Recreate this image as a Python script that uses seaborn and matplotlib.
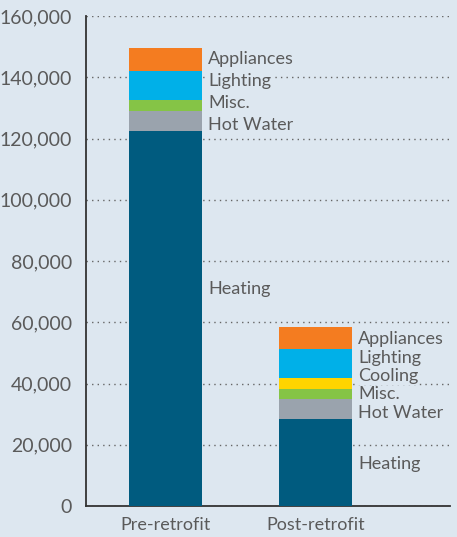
import numpy as np
import matplotlib.pyplot as plt
import seaborn as sns

# Categories and stacked components (kWh)
categories = ['Pre-retrofit', 'Post-retrofit']
components = ['Heating', 'Hot Water', 'Misc.', 'Cooling', 'Lighting', 'Appliances']
heating = [122400, 28500]
hot_water = [6600, 6500]
misc = [3600, 3300]
cooling = [0, 3600]
lighting = [9400, 9500]
appliances = [7500, 7000]
y_ticks = [0, 20000, 40000, 60000, 80000, 100000, 120000, 140000, 160000]

colors = ['#005b7f', '#9aa3ad', '#85c446', '#ffd400', '#00b0e8', '#f47c20']
bg = '#dde7f0'
text_col = '#5a5a5a'

sns.set_theme(style='white')
plt.rcParams['font.family'] = ['Lato', 'DejaVu Sans']

fig = plt.figure(figsize=(4.57, 5.37), dpi=100, facecolor=bg)
ax = fig.add_axes([0.188, 0.0577, 0.797, 0.9123])
ax.set_facecolor(bg)

series = [heating, hot_water, misc, cooling, lighting, appliances]
bottom = np.zeros(len(categories))
mids = []
# where the label of the bottom (tall) segment sits within it
base_frac = [0.58, 0.48]
for n, (vals, col) in enumerate(zip(series, colors)):
    vals = np.array(vals, dtype=float)
    sns.barplot(x=categories, y=vals, bottom=bottom, color=col, width=0.487,
                saturation=1, ax=ax, zorder=3, edgecolor='none', linewidth=0)
    if n == 0:
        mids.append(bottom + vals * np.array(base_frac))
    else:
        mids.append(bottom + vals / 2 - 1300)
    bottom = bottom + vals
mids = np.array(mids)

# Segment labels to the right of each bar, nudged apart where crowded
min_gap = [7200, 6000]
for j in range(len(categories)):
    idx = [i for i in range(len(components)) if series[i][j] > 0]
    ys = [mids[i, j] for i in idx]
    for k in range(1, len(ys)):
        if ys[k] - ys[k - 1] < min_gap[j]:
            ys[k] = ys[k - 1] + min_gap[j]
    for i, yv in zip(idx, ys):
        ax.text(j + 0.285, yv, components[i], ha='left', va='center',
                fontsize=13, color=text_col, zorder=4,
                bbox=dict(facecolor=bg, edgecolor='none', pad=0.5))

ax.set_xlim(-0.53, 1.897)
ax.set_ylim(0, 160000)
ax.set_yticks(y_ticks)
ax.set_yticklabels([f'{t:,}' for t in y_ticks])
ax.grid(axis='y', linestyle=(0, (1, 3)), color='#666666', linewidth=1)
ax.grid(axis='x', visible=False)
ax.set_axisbelow(True)

for s in ['top', 'right']:
    ax.spines[s].set_visible(False)
for s in ['left', 'bottom']:
    ax.spines[s].set_color('#333333')
    ax.spines[s].set_linewidth(1.3)

ax.tick_params(axis='y', direction='in', length=5, width=1.3, color='#333333',
               labelsize=14, labelcolor=text_col, pad=10)
ax.tick_params(axis='x', length=0, labelsize=13, labelcolor=text_col, pad=8)
ax.set_xlabel('')
ax.set_ylabel('')

fig.savefig('out.png', dpi=100, facecolor=bg)
